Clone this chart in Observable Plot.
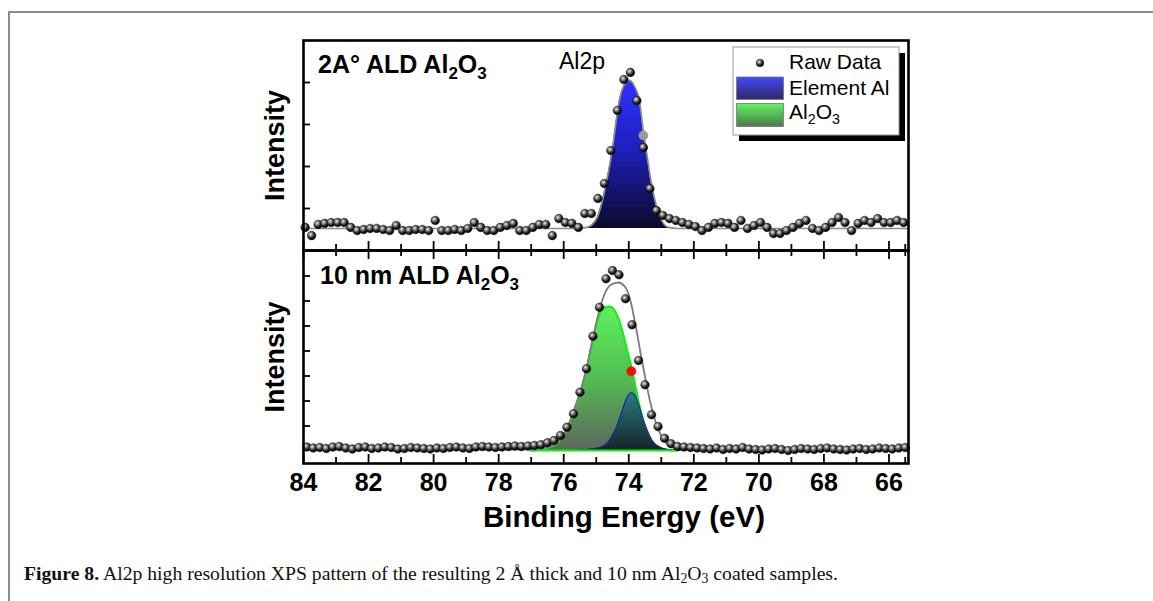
<!DOCTYPE html>
<html>
<head>
<meta charset="utf-8">
<script src="https://cdn.jsdelivr.net/npm/d3@7"></script>
<script src="https://cdn.jsdelivr.net/npm/@observablehq/plot@0.6"></script>
<style>
  html, body { margin: 0; padding: 0; background: #fff; }
  body { width: 1153px; height: 601px; overflow: hidden; position: relative; font-family: "Liberation Sans", Arial, sans-serif; }
  #border { position: absolute; left: 8px; top: 11px; width: 1200px; height: 700px; border-top: 2px solid #8c8c8c; border-left: 2px solid #8c8c8c; }
  #topPanel { position: absolute; left: 0; top: 0; }
  #bottomPanel { position: absolute; left: 0; top: 248px; }
  #caption { position: absolute; left: 24px; top: 562px; font-family: "Liberation Serif", "DejaVu Serif", serif; font-size: 19.7px; line-height: 22px; color: #111; white-space: nowrap; }
  #caption sub { font-size: 0.7em; vertical-align: -0.25em; line-height: 0; }
</style>
</head>
<body>
<svg width="0" height="0" style="position:absolute">
  <defs>
    <radialGradient id="sphere" cx="0.38" cy="0.35" r="0.65">
      <stop offset="0" stop-color="#f2f2f2"/>
      <stop offset="0.3" stop-color="#8a8a8a"/>
      <stop offset="0.7" stop-color="#1a1a1a"/>
      <stop offset="1" stop-color="#000"/>
    </radialGradient>
    <linearGradient id="gBlue" x1="0" y1="0" x2="0" y2="1">
      <stop offset="0" stop-color="#3030ff"/>
      <stop offset="0.45" stop-color="#2020c0"/>
      <stop offset="1" stop-color="#0a0a2a"/>
    </linearGradient>
    <linearGradient id="gGreen" x1="0" y1="0" x2="0" y2="1">
      <stop offset="0" stop-color="#5cf25c"/>
      <stop offset="0.5" stop-color="#52bc52"/>
      <stop offset="1" stop-color="#5e665e"/>
    </linearGradient>
    <linearGradient id="gTeal" x1="0" y1="0" x2="0" y2="1">
      <stop offset="0" stop-color="#2c7c84"/>
      <stop offset="1" stop-color="#15232a"/>
    </linearGradient>
    <linearGradient id="gBlueSw" x1="0" y1="0" x2="0" y2="1">
      <stop offset="0" stop-color="#4848f8"/>
      <stop offset="1" stop-color="#2a2a66"/>
    </linearGradient>
    <linearGradient id="gGreenSw" x1="0" y1="0" x2="0" y2="1">
      <stop offset="0" stop-color="#60f460"/>
      <stop offset="1" stop-color="#4c7a4c"/>
    </linearGradient>
  </defs>
</svg>
<div id="border"></div>
<div id="topPanel"></div>
<div id="bottomPanel"></div>
<div id="caption"><b>Figure 8.</b> Al2p high resolution XPS pattern of the resulting 2 Å thick and 10 nm Al<sub>2</sub>O<sub>3</sub> coated samples.</div>
<script>
// ---------------- DATA ----------------
const xDomain = [84, 65.4];
const xLabelTicks = [84, 82, 80, 78, 76, 74, 72, 70, 68, 66];
const xMinorTicks = [83, 81, 79, 77, 75, 73, 71, 69, 67, 65.5];
const xAxisLabel = "Binding Energy (eV)";
const yAxisLabel = "Intensity";

// Top panel: 2 Å ALD Al2O3 (arbitrary intensity units)
const topYDomain = [0, 1000];
const topYTicks = [200, 400, 600, 800];
const topRawEnergy = [
  83.95,83.75,83.55,83.35,83.15,82.95,82.75,82.55,82.35,82.15,
  81.95,81.75,81.55,81.35,81.15,80.95,80.75,80.55,80.35,80.15,
  79.95,79.75,79.55,79.35,79.15,78.95,78.75,78.55,78.35,78.15,
  77.95,77.75,77.55,77.35,77.15,76.95,76.75,76.55,76.35,76.15,
  75.95,75.75,75.55,75.35,75.15,74.95,74.75,74.55,74.35,74.15,
  73.95,73.75,73.55,73.35,73.15,72.95,72.75,72.55,72.35,72.15,
  71.95,71.75,71.55,71.35,71.15,70.95,70.75,70.55,70.35,70.15,
  69.95,69.75,69.55,69.35,69.15,68.95,68.75,68.55,68.35,68.15,
  67.95,67.75,67.55,67.35,67.15,66.95,66.75,66.55,66.35,66.15,
  65.95,65.75,65.55];
const topRawIntensity = [
  110, 71,124,129,133,133,133,110, 95,100,
  105,105,100, 95,119, 95, 95,100,100, 95,
  143, 95, 95,100, 95,105,133,110, 95, 95,
  110,119,129, 95, 95,110,124,124, 71,152,
  133,129,110,176,176,248,319,476,667,814,
  848,714,490,295,190,167,152,143,133,124,
  114, 95,110,129,133,129,110,143,105,119,
  133,110, 81, 81, 95,110,129,143,105, 95,
  110,133,157,133, 95,129,143,133,152,133,
  133,143,133];
const topMarkedEnergy = [73.55];
const topMarkedIntensity = [548];
const topFitEnergy = [84.0, 76.0, 75.6, 75.28, 74.97, 74.72, 74.51, 74.29, 74.13, 73.97, 73.82, 73.67, 73.55, 73.46, 73.28, 73.03, 72.78, 72.5, 65.4];
const topFitIntensity = [105, 105, 105, 110, 157, 300, 476, 714, 790, 810, 781, 714, 567, 476, 300, 157, 110, 105, 105];
const topFitBaseline = 105;

// Bottom panel: 10 nm ALD Al2O3 (arbitrary intensity units)
const botYDomain = [0, 852];
const botYTicks = [150, 250, 350, 450, 550, 650, 750];
const botRawEnergy = [
  83.9,83.7,83.5,83.3,83.1,82.9,82.7,82.5,82.3,82.1,
  81.9,81.7,81.5,81.3,81.1,80.9,80.7,80.5,80.3,80.1,
  79.9,79.7,79.5,79.3,79.1,78.9,78.7,78.5,78.3,78.1,
  77.9,77.7,77.5,77.3,77.1,76.9,76.7,76.5,76.3,76.1,
  75.9,75.7,75.5,75.3,75.1,74.9,74.7,74.5,74.3,74.1,
  73.9,73.7,73.5,73.3,73.1,72.9,72.7,72.5,72.3,72.1,
  71.9,71.7,71.5,71.3,71.1,70.9,70.7,70.5,70.3,70.1,
  69.9,69.7,69.5,69.3,69.1,68.9,68.7,68.5,68.3,68.1,
  67.9,67.7,67.5,67.3,67.1,66.9,66.7,66.5,66.3,66.1,
  65.9,65.7,65.5];
const botRawIntensity = [
   66, 62, 64, 60, 66, 68, 62, 58, 64, 66,
   60, 62, 66, 64, 58, 60, 64, 62, 60, 58,
   62, 60, 64, 66, 62, 60, 66, 68, 66, 64,
   66, 68, 70, 68, 70, 72, 75, 83, 92,112,
  145,199,285,379,509,625,739,772,755,659,
  555,412,315,195,148,101, 79, 68, 66, 64,
   62, 60, 58, 62, 56, 60, 58, 64, 58, 56,
   54, 58, 60, 56, 52, 56, 60, 58, 56, 60,
   62, 58, 56, 54, 58, 60, 56, 58, 62, 60,
   58, 62, 64];
const botMarkedEnergy = [73.92];
const botMarkedIntensity = [369];
const botTotalEnergy = [84.0, 77.5, 77.02, 76.56, 76.25, 76.04, 75.85, 75.67, 75.48, 75.30, 75.12, 74.93, 74.75, 74.56, 74.33, 74.10, 73.95, 73.79, 73.64, 73.49, 73.33, 73.18, 73.02, 72.87, 72.71, 72.47, 72.10, 65.4];
const botTotalIntensity = [56, 56, 57, 64, 80, 108, 156, 220, 292, 380, 492, 600, 676, 714, 724, 704, 652, 552, 444, 340, 240, 168, 116, 84, 68, 58, 56, 56];
const oxideEnergy = [77.02, 76.56, 76.25, 76.04, 75.85, 75.67, 75.48, 75.30, 75.12, 74.96, 74.84, 74.72, 74.58, 74.46, 74.31, 74.15, 74.06, 73.95, 73.79, 73.64, 73.43, 73.23, 73.03, 72.78, 72.50];
const oxideIntensity = [52, 60, 76, 104, 152, 216, 288, 376, 484, 572, 612, 626, 628, 617, 578, 508, 460, 404, 306, 215, 122, 78, 60, 53, 52];
const metalEnergy = [75.64, 75.28, 74.87, 74.56, 74.36, 74.15, 74.04, 73.92, 73.79, 73.69, 73.49, 73.28, 73.03, 72.78, 72.41];
const metalIntensity = [52, 56, 65, 99, 152, 232, 268, 283, 268, 232, 152, 92, 65, 56, 52];
const componentBaseline = 52;

const topPanelLabel = [["2A° ALD Al", false], ["2", true], ["O", false], ["3", true]];
const botPanelLabel = [["10 nm ALD Al", false], ["2", true], ["O", false], ["3", true]];
const peakLabel = "Al2p";
const legendLabels = [
  [["Raw Data", false]],
  [["Element Al", false]],
  [["Al", false], ["2", true], ["O", false], ["3", true]]
];

// ---------------- helpers ----------------
const zip = (xs, ys) => xs.map((E, i) => ({E, v: ys[i]}));
const NS = "http://www.w3.org/2000/svg";
function el(name, attrs = {}) {
  const e = document.createElementNS(NS, name);
  for (const k in attrs) e.setAttribute(k, attrs[k]);
  return e;
}
function rich(parts, attrs, fontSize) {
  const t = el("text", Object.assign({"text-anchor": "start"}, attrs));
  const shift = fontSize * 0.24;
  let cur = 0;
  for (const [s, sub] of parts) {
    const target = sub ? shift : 0;
    const a = {};
    if (target !== cur) a.dy = target - cur;
    if (sub) a["font-size"] = fontSize * 0.68;
    const ts = el("tspan", a);
    ts.textContent = s;
    t.appendChild(ts);
    cur = target;
  }
  return t;
}
function panelLabel(parts, dx, dy, fontSize, weight) {
  return (index, scales, values, dims) => rich(parts, {
    x: dims.marginLeft + dx, y: dims.marginTop + dy,
    "font-size": fontSize, "font-weight": weight, fill: "#000",
    "font-family": "Liberation Sans, Arial, sans-serif"
  }, fontSize);
}
function legendMark(labels) {
  return (index, scales, values, dims) => {
    const g = el("g", {transform: `translate(${dims.marginLeft + 430},${dims.marginTop + 7})`});
    const w = 166, h = 88;
    g.appendChild(el("rect", {x: 6, y: 6, width: w, height: h, fill: "#000"}));
    g.appendChild(el("rect", {x: 0, y: 0, width: w, height: h, fill: "#fff", stroke: "#9a9a9a", "stroke-width": 1}));
    g.appendChild(el("circle", {cx: 27, cy: 16, r: 3.8, fill: "url(#sphere)", stroke: "#111", "stroke-width": 0.5}));
    g.appendChild(el("rect", {x: 3.5, y: 30, width: 47, height: 22.5, fill: "url(#gBlueSw)", stroke: "#777", "stroke-width": 0.8}));
    g.appendChild(el("rect", {x: 3.5, y: 56.5, width: 47, height: 23, fill: "url(#gGreenSw)", stroke: "#777", "stroke-width": 0.8}));
    const ys = [22, 48, 72];
    labels.forEach((parts, i) => {
      g.appendChild(rich(parts, {x: 56, y: ys[i], "font-size": 21, fill: "#000", "font-family": "Liberation Sans, Arial, sans-serif"}, 21));
    });
    return g;
  };
}

const topRaw = zip(topRawEnergy, topRawIntensity);
const topMarked = zip(topMarkedEnergy, topMarkedIntensity);
const topFit = zip(topFitEnergy, topFitIntensity);
const botRaw = zip(botRawEnergy, botRawIntensity);
const botMarked = zip(botMarkedEnergy, botMarkedIntensity);
const botTotal = zip(botTotalEnergy, botTotalIntensity);
const oxide = zip(oxideEnergy, oxideIntensity);
const metal = zip(metalEnergy, metalIntensity);

const W = 1153, ML = 303, MR = 245;
const FW = W - ML - MR; // frame width
const font = "Liberation Sans, Arial, sans-serif";

// ---------------- TOP PANEL ----------------
const topH = 252, topMT = 40, topMB = 2, topFH = topH - topMT - topMB;
const topPlot = Plot.plot({
  width: W, height: topH,
  marginLeft: ML, marginRight: MR, marginTop: topMT, marginBottom: topMB,
  style: {background: "transparent", overflow: "visible", fontFamily: font},
  x: {domain: xDomain, axis: null},
  y: {domain: topYDomain, axis: null},
  marks: [
    Plot.areaY(topFit, {x: "E", y1: topFitBaseline, y2: "v", fill: "url(#gBlue)", curve: "monotone-x"}),
    Plot.lineY(topFit, {x: "E", y: "v", stroke: "#8c8c8c", strokeWidth: 1.6, curve: "monotone-x"}),
    Plot.dot(topRaw, {x: "E", y: "v", r: 4.3, fill: "url(#sphere)", stroke: "#111", strokeWidth: 0.5}),
    Plot.dot(topMarked, {x: "E", y: "v", r: 4.6, fill: "#9a9a9a", stroke: "#9a9a9a", strokeWidth: 0.5}),
    Plot.tickY(topYTicks, {y: d => d, insetRight: FW - 7, stroke: "#000", strokeWidth: 1.8}),
    Plot.tickX(xLabelTicks, {x: d => d, insetTop: topFH - 9, stroke: "#000", strokeWidth: 1.8}),
    Plot.tickX(xMinorTicks, {x: d => d, insetTop: topFH - 6, stroke: "#000", strokeWidth: 1.8}),
    Plot.frame({stroke: "#000", strokeWidth: 2.6}),
    Plot.text([yAxisLabel], {text: d => d, frameAnchor: "left", textAnchor: "middle", rotate: -90, dx: -28, fontSize: 27, fontWeight: "bold", fill: "#000"}),
    panelLabel(topPanelLabel, 15, 32.5, 25, "bold"),
    panelLabel([[peakLabel, false]], 256, 29, 23, "normal"),
    legendMark(legendLabels)
  ]
});
document.getElementById("topPanel").appendChild(topPlot);

// ---------------- BOTTOM PANEL ----------------
const botH = 300, botMT = 2, botMB = 85, botFH = botH - botMT - botMB;
const botPlot = Plot.plot({
  width: W, height: botH,
  marginLeft: ML, marginRight: MR, marginTop: botMT, marginBottom: botMB,
  style: {background: "transparent", overflow: "visible", fontFamily: font},
  x: {domain: xDomain},
  y: {domain: botYDomain, axis: null},
  marks: [
    Plot.areaY(oxide, {x: "E", y1: componentBaseline, y2: "v", fill: "url(#gGreen)", curve: "monotone-x"}),
    Plot.lineY(oxide, {x: "E", y: "v", stroke: "#10f010", strokeWidth: 2, curve: "monotone-x"}),
    Plot.areaY(metal, {x: "E", y1: componentBaseline, y2: "v", fill: "url(#gTeal)", curve: "monotone-x"}),
    Plot.lineY(metal, {x: "E", y: "v", stroke: "#1c2c96", strokeWidth: 1.2, curve: "monotone-x"}),
    Plot.ruleY([componentBaseline], {x1: oxideEnergy[0], x2: oxideEnergy[oxideEnergy.length - 1], stroke: "#10f010", strokeWidth: 2.2}),
    Plot.lineY(botTotal, {x: "E", y: "v", stroke: "#7c7c7c", strokeWidth: 1.8, curve: "monotone-x"}),
    Plot.dot(botRaw, {x: "E", y: "v", r: 4.3, fill: "url(#sphere)", stroke: "#111", strokeWidth: 0.5}),
    Plot.dot(botMarked, {x: "E", y: "v", r: 4.6, fill: "#f01010", stroke: "#e00", strokeWidth: 0.5}),
    Plot.tickY(botYTicks, {y: d => d, insetRight: FW - 7, stroke: "#000", strokeWidth: 1.8}),
    Plot.tickX(xLabelTicks, {x: d => d, insetBottom: botFH - 9, stroke: "#000", strokeWidth: 1.8}),
    Plot.tickX(xMinorTicks, {x: d => d, insetBottom: botFH - 6, stroke: "#000", strokeWidth: 1.8}),
    Plot.tickX(xLabelTicks, {x: d => d, insetTop: botFH - 9, stroke: "#000", strokeWidth: 1.8}),
    Plot.tickX(xMinorTicks, {x: d => d, insetTop: botFH - 6, stroke: "#000", strokeWidth: 1.8}),
    Plot.frame({stroke: "#000", strokeWidth: 2.6}),
    Plot.axisX({anchor: "bottom", ticks: xLabelTicks, tickSize: 0, tickPadding: 10, fontSize: 25, fontWeight: "bold", tickFormat: d => d, label: null, fill: "#000"}),
    Plot.text([xAxisLabel], {text: d => d, frameAnchor: "bottom", textAnchor: "middle", dx: 18, dy: 63, fontSize: 29.5, fontWeight: "bold", fill: "#000"}),
    Plot.text([yAxisLabel], {text: d => d, frameAnchor: "left", textAnchor: "middle", rotate: -90, dx: -28, fontSize: 27, fontWeight: "bold", fill: "#000"}),
    panelLabel(botPanelLabel, 17, 34, 25, "bold")
  ]
});
document.getElementById("bottomPanel").appendChild(botPlot);
</script>
</body>
</html>
